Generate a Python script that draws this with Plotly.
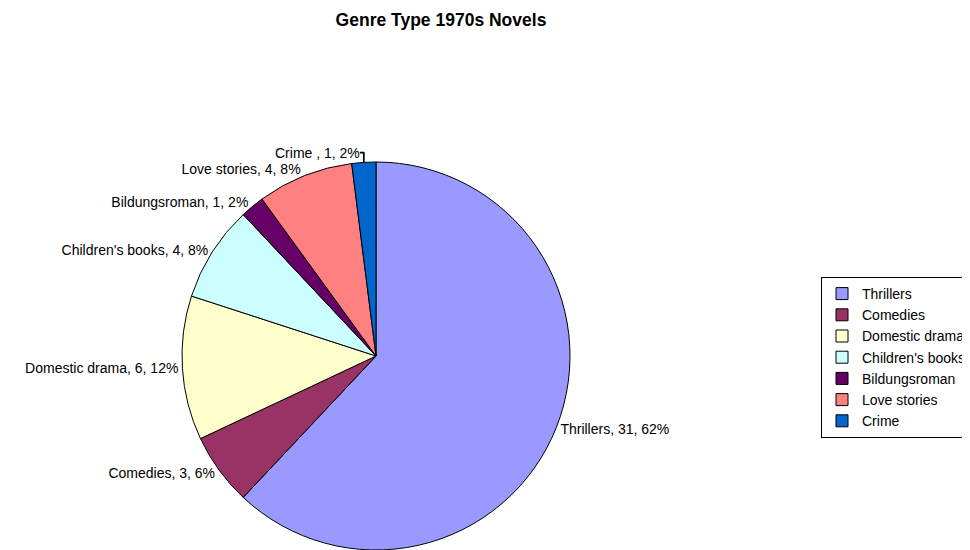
import plotly.graph_objects as go

genres = ["Thrillers", "Comedies", "Domestic drama", "Children's books", "Bildungsroman", "Love stories", "Crime "]
counts = [31, 3, 6, 4, 1, 4, 1]
colors = ["#9999FF", "#993366", "#FFFFCC", "#CCFFFF", "#660066", "#FF8080", "#0066CC"]

# page has an 8px body margin, so the figure fills the rest of the 970x550 window
W, H = 962, 542
cx, r = 368, 194

fig = go.Figure(go.Pie(
    labels=genres,
    values=counts,
    sort=False,
    direction="clockwise",
    rotation=0,
    marker=dict(colors=colors, line=dict(color="black", width=1)),
    textposition="outside",
    texttemplate="%{label}, %{value}, %{percent:.0%}",
    textfont=dict(family="Liberation Sans, Arial, sans-serif", size=14, color="black"),
    domain=dict(x=[(cx - r) / W, (cx + r) / W], y=[0, 2 * r / H]),
    hoverinfo="label+value+percent",
))

fig.update_layout(
    width=W, height=H,
    margin=dict(l=0, r=0, t=0, b=0, autoexpand=False),
    paper_bgcolor="white",
    plot_bgcolor="white",
    font=dict(family="Liberation Sans, Arial, sans-serif", size=14, color="black"),
    title=dict(text="<b>Genre Type 1970s Novels</b>", x=433 / W, xanchor="center", y=1 - 6 / H, yanchor="top",
               font=dict(size=17.5, color="black")),
    showlegend=True,
    legend=dict(x=813 / W, xanchor="left", y=1 - 269 / H, yanchor="top",
                bordercolor="black", borderwidth=1, bgcolor="white",
                font=dict(size=14, color="black"), traceorder="normal"),
)

fig.write_html("out.html")
